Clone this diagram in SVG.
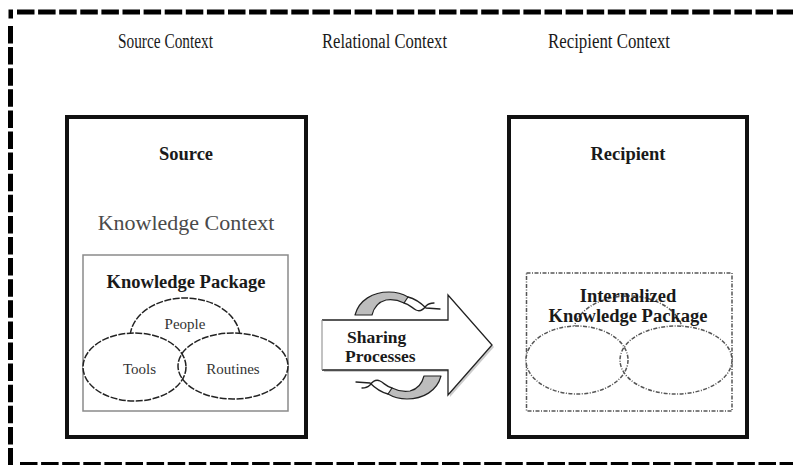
<svg xmlns="http://www.w3.org/2000/svg" width="793" height="465" viewBox="0 0 793 465">
  <defs>
    <style>
      .serif { font-family: "Liberation Serif", "DejaVu Serif", serif; fill: #1a1a1a; }
      .ctx { font-size: 22px; text-anchor: middle; }
      .head { font-size: 20px; text-anchor: middle; }
      .title { font-size: 18.5px; font-weight: bold; text-anchor: middle; }
      .small { font-size: 15px; text-anchor: middle; fill: #333; }
      .frame { fill: none; stroke: #000; stroke-width: 5; stroke-dasharray: 17.5 3.6; }
      .box { fill: #fff; stroke: #111; stroke-width: 4; }
      .pkg { fill: none; stroke: #8a8a8a; stroke-width: 1.5; }
      .oval { fill: none; stroke: #222; stroke-width: 1.5; stroke-dasharray: 7 1.5; }
      .mask { fill: #fff; stroke: none; }
      .dotted { fill: none; stroke: #555; stroke-width: 1.5; stroke-dasharray: 4 1.5 1 1.5; }
      .band { fill: #bdbdbd; stroke: #222; stroke-width: 1.2; stroke-linejoin: round; }
      .twist { fill: none; stroke: #222; stroke-width: 1.3; stroke-linecap: round; stroke-linejoin: round; }
    </style>
    <!-- one curved cycle arrow; the second is the same shape turned half a turn -->
    <g id="cycle-arrow">
      <path class="band" d="M 355 315 C 359 300, 373 292, 389 292 C 397 292, 403 294, 408 297 L 404 303 C 398 300, 392 299, 386 300 C 378 302, 374 307, 372 315 Z"/>
      <path class="twist" d="M 408 297 C 416 299, 421 303, 426 308 L 440 309"/>
      <path class="twist" d="M 404 303 C 409 304, 412 308, 416 310 C 420 312, 423 310, 426 306 C 428 304, 431 303, 434 303"/>
    </g>
  </defs>

  <rect width="793" height="465" fill="#fff"/>

  <!-- outer dashed frame -->
  <g id="frame">
    <line class="frame" x1="17" y1="12" x2="800" y2="12"/>
    <line class="frame" x1="10.5" y1="26" x2="10.5" y2="470" stroke-dasharray="16.7 4"/>
    <rect x="8.5" y="9.5" width="4.5" height="9" fill="#000"/>
    <line class="frame" x1="20" y1="464.5" x2="800" y2="464.5" stroke="#888" stroke-width="3"/>
  </g>

  <!-- context headings -->
  <g id="headings">
    <text class="serif head" x="165.5" y="48" textLength="95" lengthAdjust="spacingAndGlyphs">Source Context</text>
    <text class="serif head" x="384.5" y="48" textLength="125" lengthAdjust="spacingAndGlyphs">Relational Context</text>
    <text class="serif head" x="609" y="48" textLength="122" lengthAdjust="spacingAndGlyphs">Recipient Context</text>
  </g>

  <!-- source side -->
  <g id="source">
    <rect class="box" x="67" y="117" width="239" height="320"/>
    <text class="serif title" x="186" y="160">Source</text>
    <text class="serif ctx" x="186" y="230" style="fill:#4a4a4a">Knowledge Context</text>
    <g id="knowledge-package">
      <rect class="pkg" x="83" y="255" width="205" height="156"/>
      <text class="serif title" x="186" y="288">Knowledge Package</text>
      <ellipse class="oval" cx="185" cy="338" rx="55" ry="40"/>
      <ellipse class="mask" cx="134.5" cy="367" rx="51.5" ry="34"/>
      <ellipse class="mask" cx="233" cy="366" rx="55" ry="33"/>
      <ellipse class="oval" cx="134.5" cy="367" rx="51.5" ry="34"/>
      <ellipse class="oval" cx="233" cy="366" rx="55" ry="33"/>
      <text class="serif small" x="185" y="329">People</text>
      <text class="serif small" x="139.5" y="374">Tools</text>
      <text class="serif small" x="233" y="374">Routines</text>
    </g>
  </g>

  <!-- sharing processes arrow -->
  <g id="sharing">
    <polygon points="324,322 450,322 450,297 494,347 450,397 450,372 324,372" fill="#aaa" opacity="0.6"/>
    <polygon points="322,320 448,320 448,295 492,345 448,395 448,370 322,370" fill="#fff"/>
    <path d="M 322 320 H 448 V 295 L 492 345 L 448 395 V 370 H 322" fill="none" stroke="#222" stroke-width="1.3"/>
    <line x1="322" y1="320" x2="322" y2="370" stroke="#999" stroke-width="1.2"/>
    <text class="serif" x="347" y="343" font-size="17.5" font-weight="bold">Sharing</text>
    <text class="serif" x="345" y="362" font-size="17.5" font-weight="bold">Processes</text>
    <use href="#cycle-arrow"/>
    <use href="#cycle-arrow" transform="rotate(180 398 345.5)"/>
  </g>

  <!-- recipient side -->
  <g id="recipient">
    <rect class="box" x="509" y="117" width="238" height="320"/>
    <text class="serif title" x="628" y="160">Recipient</text>
    <g id="internalized-package">
      <rect class="dotted" x="526.5" y="273" width="205.5" height="138"/>
      <ellipse class="dotted" cx="628" cy="334" rx="55" ry="38"/>
      <ellipse class="mask" cx="577" cy="360" rx="51" ry="34"/>
      <ellipse class="mask" cx="676" cy="360" rx="56" ry="34"/>
      <ellipse class="dotted" cx="577" cy="360" rx="51" ry="34"/>
      <ellipse class="dotted" cx="676" cy="360" rx="56" ry="34"/>
      <text class="serif title" x="628" y="302">Internalized</text>
      <text class="serif title" x="628" y="322">Knowledge Package</text>
    </g>
  </g>
</svg>
